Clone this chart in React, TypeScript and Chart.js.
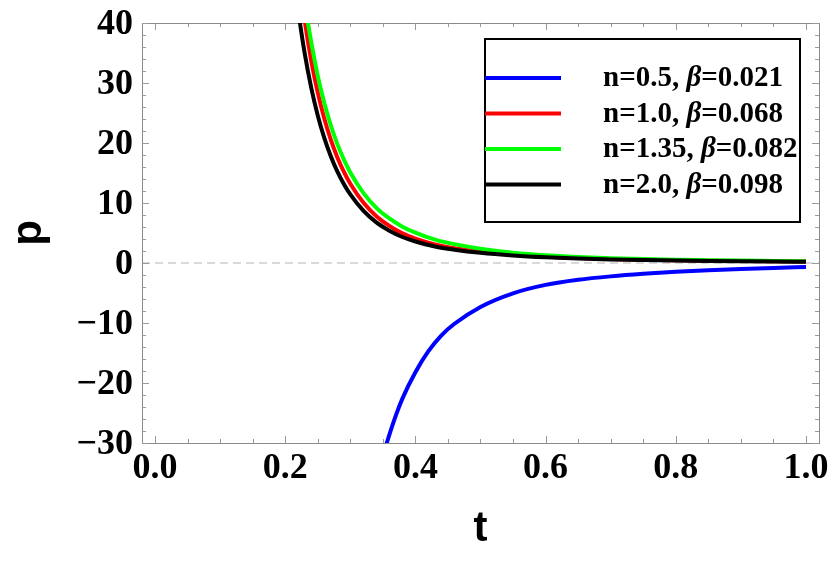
import React, { useEffect, useRef } from "react";
import { Chart, registerables } from "chart.js";

Chart.register(...registerables);

// ---- data ----
const tBlue = [0.35, 0.356, 0.37, 0.38, 0.4, 0.42, 0.44, 0.46, 0.5, 0.55, 0.6, 0.65, 0.7, 0.75, 0.8, 0.85, 0.9, 0.95, 1.0];
const pBlue = [-32.2, -30, -25.4, -22.6, -18.2, -14.7, -12.05, -10.13, -7.32, -5.05, -3.65, -2.8, -2.23, -1.8, -1.47, -1.2, -1.0, -0.82, -0.66];

const tRed = [0.22, 0.2305, 0.24, 0.25, 0.26, 0.27, 0.28, 0.29, 0.3, 0.32, 0.34, 0.36, 0.38, 0.4, 0.43, 0.46, 0.5, 0.55, 0.6, 0.65, 0.7, 0.75, 0.8, 0.85, 0.9, 0.95, 1.0];
const pRed = [48.6, 40, 33.7, 28.4, 24.07, 20.56, 17.64, 15.22, 13.2, 10.07, 7.81, 6.18, 4.94, 4.07, 3.1, 2.48, 1.89, 1.39, 1.05, 0.82, 0.656, 0.537, 0.445, 0.375, 0.319, 0.274, 0.238];

const tGreen = [0.226, 0.235, 0.24, 0.25, 0.26, 0.27, 0.28, 0.29, 0.3, 0.32, 0.34, 0.36, 0.38, 0.4, 0.43, 0.46, 0.5, 0.55, 0.6, 0.65, 0.7, 0.75, 0.8, 0.85, 0.9, 0.95, 1.0];
const pGreen = [46.7, 40, 36.8, 31.2, 26.7, 22.96, 19.85, 17.27, 15.09, 11.68, 9.19, 7.42, 6.06, 5.05, 3.89, 3.14, 2.38, 1.73, 1.29, 1.01, 0.81, 0.66, 0.55, 0.47, 0.4, 0.35, 0.3];

const tBlack = [0.215, 0.222, 0.23, 0.24, 0.25, 0.26, 0.27, 0.28, 0.29, 0.3, 0.32, 0.34, 0.36, 0.38, 0.4, 0.43, 0.46, 0.5, 0.55, 0.6, 0.65, 0.7, 0.75, 0.8, 0.85, 0.9, 0.95, 1.0];
const pBlack = [46.3, 40.5, 34.9, 29.2, 24.6, 20.84, 17.8, 15.27, 13.18, 11.43, 8.72, 6.76, 5.38, 4.33, 3.58, 2.74, 2.21, 1.69, 1.247, 0.944, 0.742, 0.594, 0.487, 0.404, 0.341, 0.29, 0.249, 0.216];

const xTicks = [0, 0.2, 0.4, 0.6, 0.8, 1.0];
const yTicks = [-30, -20, -10, 0, 10, 20, 30, 40];
const xMinorStep = 0.05;
const yMinorStep = 2;

const legendItems = [
  { color: "#0000ff", n: "n=0.5, ", b: "=0.021" },
  { color: "#ff0000", n: "n=1.0, ", b: "=0.068" },
  { color: "#00ff00", n: "n=1.35, ", b: "=0.082" },
  { color: "#000000", n: "n=2.0, ", b: "=0.098" },
];

const toPts = (ts: number[], ps: number[]) => ts.map((t, i) => ({ x: t, y: ps[i] }));

const SERIF = '"Liberation Serif", "Times New Roman", serif';
const SANS = '"Liberation Sans", Arial, sans-serif';

const zeroPad = (s: any) => {
  s.paddingLeft = 0;
  s.paddingRight = 0;
  s.paddingTop = 0;
  s.paddingBottom = 0;
};

const framePlugin = {
  id: "frameTicks",
  beforeDatasetsDraw(chart: any) {
    const { ctx, chartArea: a, scales } = chart;
    const xs = scales.x;
    const ys = scales.y;
    ctx.save();
    // dashed zero line
    ctx.strokeStyle = "#b3b3b3";
    ctx.lineWidth = 1.2;
    ctx.setLineDash([8, 5]);
    const y0 = ys.getPixelForValue(0);
    ctx.beginPath();
    ctx.moveTo(a.left, y0);
    ctx.lineTo(a.right, y0);
    ctx.stroke();
    ctx.setLineDash([]);

    // frame
    ctx.strokeStyle = "#8a8a8a";
    ctx.lineWidth = 1;
    ctx.strokeRect(a.left + 0.5, a.top + 0.5, a.right - a.left, a.bottom - a.top);

    // inward ticks on all four sides
    ctx.strokeStyle = "#9a9a9a";
    const major = 7;
    const minor = 4;
    ctx.beginPath();
    for (let v = 0; v <= 1.0001; v += xMinorStep) {
      const isMajor = Math.abs(v / 0.2 - Math.round(v / 0.2)) < 1e-6;
      const len = isMajor ? major : minor;
      const px = Math.round(xs.getPixelForValue(v)) + 0.5;
      ctx.moveTo(px, a.bottom);
      ctx.lineTo(px, a.bottom - len);
      ctx.moveTo(px, a.top);
      ctx.lineTo(px, a.top + len);
    }
    for (let v = -30; v <= 40.0001; v += yMinorStep) {
      const isMajor = Math.abs(v / 10 - Math.round(v / 10)) < 1e-6;
      const len = isMajor ? major : minor;
      const py = Math.round(ys.getPixelForValue(v)) + 0.5;
      ctx.moveTo(a.left, py);
      ctx.lineTo(a.left + len, py);
      ctx.moveTo(a.right, py);
      ctx.lineTo(a.right - len, py);
    }
    ctx.stroke();
    ctx.restore();
  },
  afterDraw(chart: any) {
    const { ctx, chartArea: a } = chart;
    ctx.save();
    const bx = a.right - 334;
    const by = a.top + 16;
    const bw = 315;
    const bh = 183;
    ctx.fillStyle = "#ffffff";
    ctx.fillRect(bx, by, bw, bh);
    ctx.strokeStyle = "#000000";
    ctx.lineWidth = 2;
    ctx.strokeRect(bx, by, bw, bh);
    const rowY0 = by + 39;
    const rowGap = 35.5;
    const fs = 29;
    legendItems.forEach((it, i) => {
      const y = rowY0 + i * rowGap;
      ctx.strokeStyle = it.color;
      ctx.lineWidth = 4;
      ctx.beginPath();
      ctx.moveTo(bx, y);
      ctx.lineTo(bx + 76, y);
      ctx.stroke();
      ctx.fillStyle = "#000";
      ctx.textBaseline = "middle";
      let x = bx + 118;
      ctx.font = `bold ${fs}px ${SERIF}`;
      ctx.fillText(it.n, x, y + 1);
      x += ctx.measureText(it.n).width;
      ctx.font = `italic bold ${fs}px ${SERIF}`;
      ctx.fillText("\u03B2", x, y + 1);
      x += ctx.measureText("\u03B2").width;
      ctx.font = `bold ${fs}px ${SERIF}`;
      ctx.fillText(it.b, x, y + 1);
    });
    ctx.restore();
  },
};

export default function App() {
  const ref = useRef<HTMLCanvasElement | null>(null);
  useEffect(() => {
    if (!ref.current) return;
    const ds = (label: string, pts: any[], color: string, order: number) => ({
      label,
      data: pts,
      borderColor: color,
      backgroundColor: color,
      borderWidth: 4,
      pointRadius: 0,
      fill: false,
      cubicInterpolationMode: "monotone" as const,
      order,
    });
    const chart = new Chart(ref.current, {
      type: "line",
      data: {
        datasets: [
          ds("n=0.5, β=0.021", toPts(tBlue, pBlue), "#0000ff", 3),
          ds("n=1.0, β=0.068", toPts(tRed, pRed), "#ff0000", 2),
          ds("n=1.35, β=0.082", toPts(tGreen, pGreen), "#00ff00", 1),
          ds("n=2.0, β=0.098", toPts(tBlack, pBlack), "#000000", 0),
        ],
      },
      options: {
        animation: false,
        responsive: true,
        maintainAspectRatio: false,
        layout: { padding: { top: 23, right: 15, left: 0, bottom: 0 } },
        plugins: { legend: { display: false }, tooltip: { enabled: false } },
        scales: {
          x: {
            type: "linear",
            min: -0.02,
            max: 1.02,
            afterBuildTicks: (s: any) => {
              s.ticks = xTicks.map((v) => ({ value: v }));
            },
            afterFit: (s: any) => {
              s.height = 118;
              zeroPad(s);
            },
            grid: { display: false, drawTicks: false },
            border: { display: false },
            ticks: {
              color: "#000",
              font: { family: SERIF, size: 36, weight: "bold", lineHeight: 1 },
              padding: 8,
              maxRotation: 0,
              autoSkip: false,
              callback: (v: any) => Number(v).toFixed(1),
            },
            title: {
              display: true,
              text: "t",
              color: "#000",
              font: { family: SANS, size: 42, weight: "bold" },
              padding: { top: 0, bottom: 6 },
            },
          },
          y: {
            type: "linear",
            min: -30,
            max: 40,
            afterBuildTicks: (s: any) => {
              s.ticks = yTicks.map((v) => ({ value: v }));
            },
            afterFit: (s: any) => {
              s.width = 142;
              zeroPad(s);
            },
            grid: { display: false, drawTicks: false },
            border: { display: false },
            ticks: {
              color: "#000",
              font: { family: SERIF, size: 36, weight: "bold", lineHeight: 1 },
              padding: 9,
              labelOffset: 2,
              autoSkip: false,
              callback: (v: any) => (v < 0 ? "\u2212" + Math.abs(v) : String(v)),
            },
            title: {
              display: true,
              text: "p",
              color: "#000",
              font: { family: SANS, size: 42, weight: "bold" },
              padding: { top: 4, bottom: 0 },
            },
          },
        },
      },
      plugins: [framePlugin],
    });
    return () => chart.destroy();
  }, []);
  return (
    <div style={{ position: "fixed", left: 0, top: 0, width: 834, height: 561, background: "#fff" }}>
      <canvas ref={ref} />
    </div>
  );
}
